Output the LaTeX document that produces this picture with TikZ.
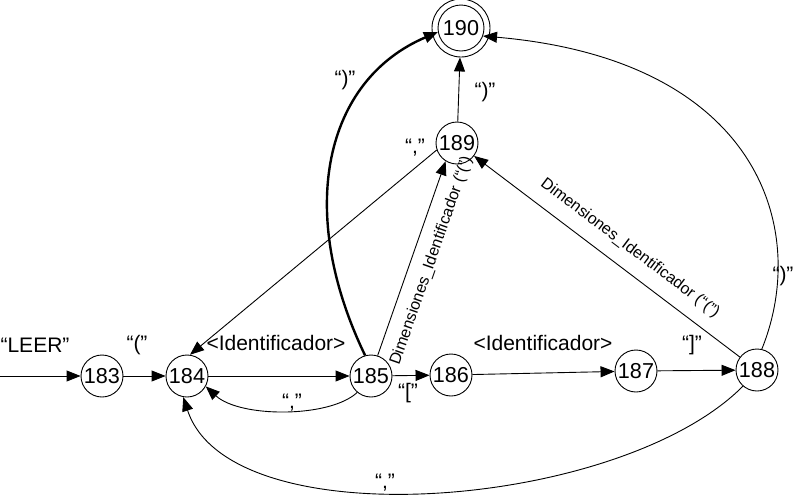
\documentclass[tikz,border=0pt]{standalone}
\usepackage{fontspec}
\setmainfont{Liberation Sans}
\usetikzlibrary{arrows.meta}
\begin{document}
\begin{tikzpicture}[x=0.5pt,y=-0.5pt,
  state/.style={circle, draw, line width=0.45pt, minimum size=21pt, inner sep=0pt, font=\fontsize{10.8}{12}\selectfont},
  lbl/.style={font=\fontsize{10.5}{12}\selectfont, inner sep=1pt},
  rot/.style={font=\fontsize{8}{9}\selectfont},
  arr/.style={-{Triangle[length=7pt,width=5.5pt]}, line width=0.45pt},
  thickarr/.style={-{Triangle[length=7pt,width=5.5pt]}, line width=1.2pt}]
\useasboundingbox (0,0) rectangle (800,499);
% states
\node[state] (n183) at (102,376) {183};
\node[state] (n184) at (187,376) {184};
\node[state] (n185) at (371,376) {185};
\node[state] (n186) at (451,375) {186};
\node[state] (n187) at (636,371) {187};
\node[state] (n188) at (757,370) {188};
\node[state] (n189) at (457,143) {189};
\node[state, minimum size=29pt] (n190) at (461,28) {};
\node[state, minimum size=23pt] (n190i) at (461,28) {190};
\coordinate (start) at (0,376);
% straight transitions
\draw[arr] (start) -- (n183);
\draw[arr] (n183) -- (n184);
\draw[arr] (n184) -- (n185);
\draw[arr] (n185) -- (n186);
\draw[arr] (n186) -- (n187);
\draw[arr] (n187) -- (n188);
\draw[arr] (n189) -- (n190);
\draw[arr] (n189.199) -- (n184.82);
\draw[arr] (n185.72) -- node[rot, sloped, below=2.5pt, pos=0.52] {Dimensiones\_Identificador (“(”)} (n189.238);
\draw[arr] (n188) -- node[rot, sloped, above=3pt, pos=0.46] {Dimensiones\_Identificador (“(”)} (n189);
% curved transitions
\draw[thickarr] (n185.106) .. controls (295,210) and (325,80) .. (n190i.190);
\draw[arr] (n188.77) .. controls (810,230) and (760,60) .. (n190i.-20);
\draw[arr] (n188.229) .. controls (620,510) and (230,540) .. (n184.260);
\draw[arr] (n185.230) .. controls (330,418) and (240,418) .. (n184.331);
% labels
\node[lbl] (lLEER) at (35,345) {“LEER”};
\node[lbl] (l1) at (137,345) {“(”};
\node[lbl] (l2) at (276,343) {<Identificador>};
\node[lbl] (l3) at (292,403) {“,”};
\node[lbl] (l4) at (408,393) {“[”};
\node[lbl] (l5) at (543,343) {<Identificador>};
\node[lbl] (l6) at (692,345) {“]”};
\node[lbl] (l7) at (385,483) {“,”};
\node[lbl] (l8) at (783,276) {“)”};
\node[lbl] (l9) at (485,92) {“)”};
\node[lbl] (l10) at (345,80) {“)”};
\node[lbl] (l11) at (415,148) {“,”};
\end{tikzpicture}
\end{document}
